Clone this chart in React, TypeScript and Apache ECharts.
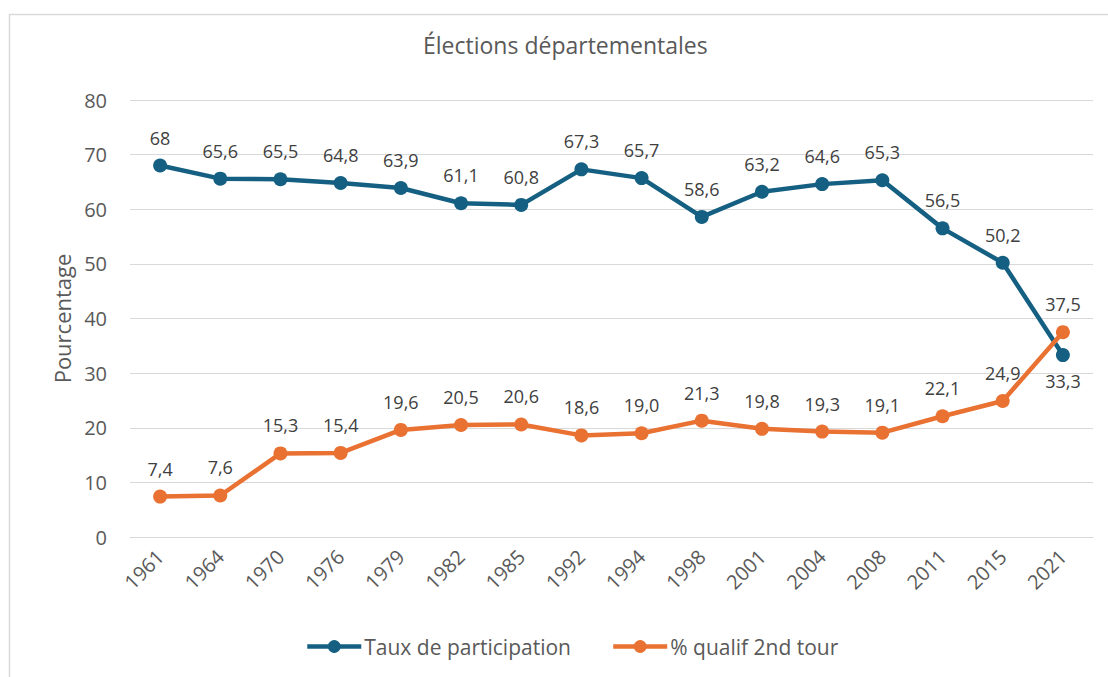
import React, { useEffect, useRef } from "react";
import * as echarts from "echarts";

const years = ["1961","1964","1970","1976","1979","1982","1985","1992","1994","1998","2001","2004","2008","2011","2015","2021"];
const participation = [68, 65.6, 65.5, 64.8, 63.9, 61.1, 60.8, 67.3, 65.7, 58.6, 63.2, 64.6, 65.3, 56.5, 50.2, 33.3];
const qualif = [7.4, 7.6, 15.3, 15.4, 19.6, 20.5, 20.6, 18.6, 19.0, 21.3, 19.8, 19.3, 19.1, 22.1, 24.9, 37.5];
const yTicks = { min: 0, max: 80, interval: 10 };

const FONT = "'Open Sans', 'Noto Sans', sans-serif";
const TXT = "#595959";

export default function App() {
  const ref = useRef<HTMLDivElement>(null);
  useEffect(() => {
    const chart = echarts.init(ref.current!, null, { renderer: "svg" });
    const n = participation.length;
    chart.setOption({
      animation: false,
      backgroundColor: "#fff",
      textStyle: { fontFamily: FONT },
      title: {
        text: "Élections départementales",
        left: 423,
        top: 33,
        padding: 0,
        textStyle: { fontFamily: FONT, fontSize: 23, fontWeight: "normal", color: TXT },
      },
      graphic: [
        {
          type: "rect",
          shape: { x: 9.5, y: 14.5, width: 1200, height: 800 },
          style: { fill: "none", stroke: "#d9d9d9", lineWidth: 1.5 },
          silent: true,
        },
      ],
      legend: {
        bottom: 20,
        left: 305,
        padding: 0,
        itemWidth: 54,
        itemHeight: 16,
        itemGap: 40,
        lineStyle: { width: 4.5 },
        textStyle: { fontFamily: FONT, fontSize: 21, color: TXT, padding: [0, 0, 0, -2] },
        data: ["Taux de participation", "% qualif 2nd tour"],
      },
      grid: { left: 130, right: 15, top: 100, bottom: 140 },
      xAxis: {
        type: "category",
        data: years,
        boundaryGap: true,
        axisLine: { lineStyle: { color: "#d9d9d9", width: 1 } },
        axisTick: { show: false },
        axisLabel: { rotate: 45, fontSize: 20, color: TXT, fontFamily: FONT, margin: 16 },
      },
      yAxis: {
        type: "value",
        min: yTicks.min,
        max: yTicks.max,
        interval: yTicks.interval,
        name: "Pourcentage",
        nameLocation: "middle",
        nameGap: 56,
        nameTextStyle: { fontSize: 22, color: TXT, fontFamily: FONT },
        axisLine: { show: false },
        axisTick: { show: false },
        axisLabel: { fontSize: 20, color: TXT, fontFamily: FONT, margin: 23 },
        splitLine: { lineStyle: { color: "#d9d9d9", width: 1 } },
      },
      series: [
        {
          name: "Taux de participation",
          type: "line",
          data: participation.map((v, i) =>
            i === n - 1
              ? { value: v, label: { position: "bottom", distance: 10 } }
              : v
          ),
          color: "#156082",
          symbol: "circle",
          symbolSize: 14,
          lineStyle: { width: 4.5, color: "#156082" },
          itemStyle: { color: "#156082" },
          label: {
            show: true,
            position: "top",
            distance: 12,
            fontSize: 18,
            color: "#404040",
            fontFamily: FONT,
            formatter: (p: any) => String(p.value).replace(".", ","),
          },
          z: 2,
        },
        {
          name: "% qualif 2nd tour",
          type: "line",
          data: qualif,
          color: "#e97132",
          symbol: "circle",
          symbolSize: 14,
          lineStyle: { width: 4.5, color: "#e97132" },
          itemStyle: { color: "#e97132" },
          label: {
            show: true,
            position: "top",
            distance: 12,
            fontSize: 18,
            color: "#404040",
            fontFamily: FONT,
            formatter: (p: any) => Number(p.value).toFixed(1).replace(".", ","),
          },
          z: 3,
        },
      ],
    });
    return () => chart.dispose();
  }, []);
  return (
    <div
      ref={ref}
      style={{ position: "fixed", left: 0, top: 0, width: 1108, height: 677 }}
    />
  );
}
